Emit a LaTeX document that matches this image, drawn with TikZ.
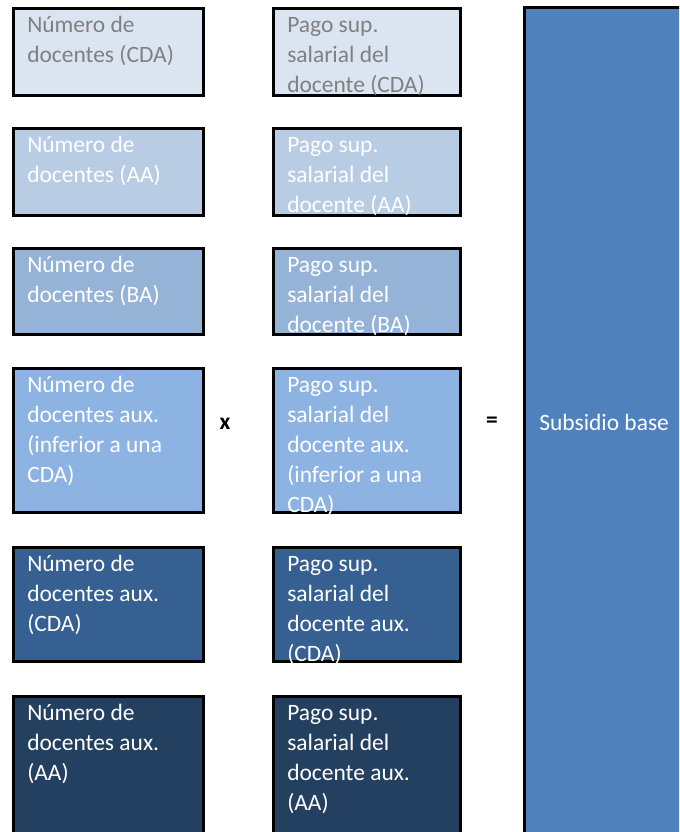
\documentclass[tikz,border=0pt]{standalone}
\usepackage{fontspec}
\setmainfont{Carlito}
\usetikzlibrary{positioning}

\definecolor{caja1}{HTML}{DBE5F1}
\definecolor{caja2}{HTML}{B8CCE4}
\definecolor{caja3}{HTML}{95B3D7}
\definecolor{caja4}{HTML}{8DB3E2}
\definecolor{caja5}{HTML}{366092}
\definecolor{caja6}{HTML}{244061}
\definecolor{subsidio}{HTML}{4F81BD}
\definecolor{textogris}{HTML}{808080}

\begin{document}
\begin{tikzpicture}[x=0.75pt, y=-0.75pt,
    caja/.style={draw=black, line width=2.25pt},
    texto/.style={anchor=base west, align=left, inner sep=0pt, text=white,
        font=\fontsize{17.6}{22.5}\selectfont},
    signo/.style={inner sep=0pt, font=\fontsize{17.6}{22.5}\selectfont\bfseries}]
\useasboundingbox (0,0) rectangle (679,832);
\clip (0,0) rectangle (679,832);
% columna izquierda (la posicion de cada texto es la linea base de su ultima linea)
\draw[caja, fill=caja1] (13.5,8.5) rectangle (203.5,95.5);
\draw[caja, fill=caja2] (13.5,128.5) rectangle (203.5,215.5);
\draw[caja, fill=caja3] (13.5,248.5) rectangle (203.5,334.5);
\draw[caja, fill=caja4] (13.5,368.5) rectangle (203.5,512.5);
\draw[caja, fill=caja5] (13.5,547.5) rectangle (203.5,661.5);
\draw[caja, fill=caja6] (13.5,696.5) rectangle (203.5,850);
\node[texto, text=textogris] (num1) at (27,62) {Número de\\docentes (CDA)};
\node[texto] (num2) at (27,182) {Número de\\docentes (AA)};
\node[texto] (num3) at (27,302) {Número de\\docentes (BA)};
\node[texto] (num4) at (27,482) {Número de\\docentes aux.\\(inferior a una\\CDA)};
\node[texto] (num5) at (27,631) {Número de\\docentes aux.\\(CDA)};
\node[texto] (num6) at (27,780) {Número de\\docentes aux.\\(AA)};
% columna central
\draw[caja, fill=caja1] (273.5,8.5) rectangle (460.5,95.5);
\draw[caja, fill=caja2] (273.5,128.5) rectangle (460.5,215.5);
\draw[caja, fill=caja3] (273.5,248.5) rectangle (460.5,334.5);
\draw[caja, fill=caja4] (273.5,368.5) rectangle (460.5,512.5);
\draw[caja, fill=caja5] (273.5,547.5) rectangle (460.5,661.5);
\draw[caja, fill=caja6] (273.5,696.5) rectangle (460.5,850);
\node[texto, text=textogris] (pago1) at (287,92) {Pago sup.\\salarial del\\docente (CDA)};
\node[texto] (pago2) at (287,212) {Pago sup.\\salarial del\\docente (AA)};
\node[texto] (pago3) at (287,332) {Pago sup.\\salarial del\\docente (BA)};
\node[texto] (pago4) at (287,512) {Pago sup.\\salarial del\\docente aux.\\(inferior a una\\CDA)};
\node[texto] (pago5) at (287,661) {Pago sup.\\salarial del\\docente aux.\\(CDA)};
\node[texto] (pago6) at (287,810) {Pago sup.\\salarial del\\docente aux.\\(AA)};
% resultado
\draw[caja, fill=subsidio] (524.5,7.5) rectangle (700,850);
\node[texto] (base) at (539,430) {Subsidio base};
\node[signo] (por) at (225,424) {x};
\node[signo] (igual) at (492,422) {=};
\end{tikzpicture}
\end{document}
